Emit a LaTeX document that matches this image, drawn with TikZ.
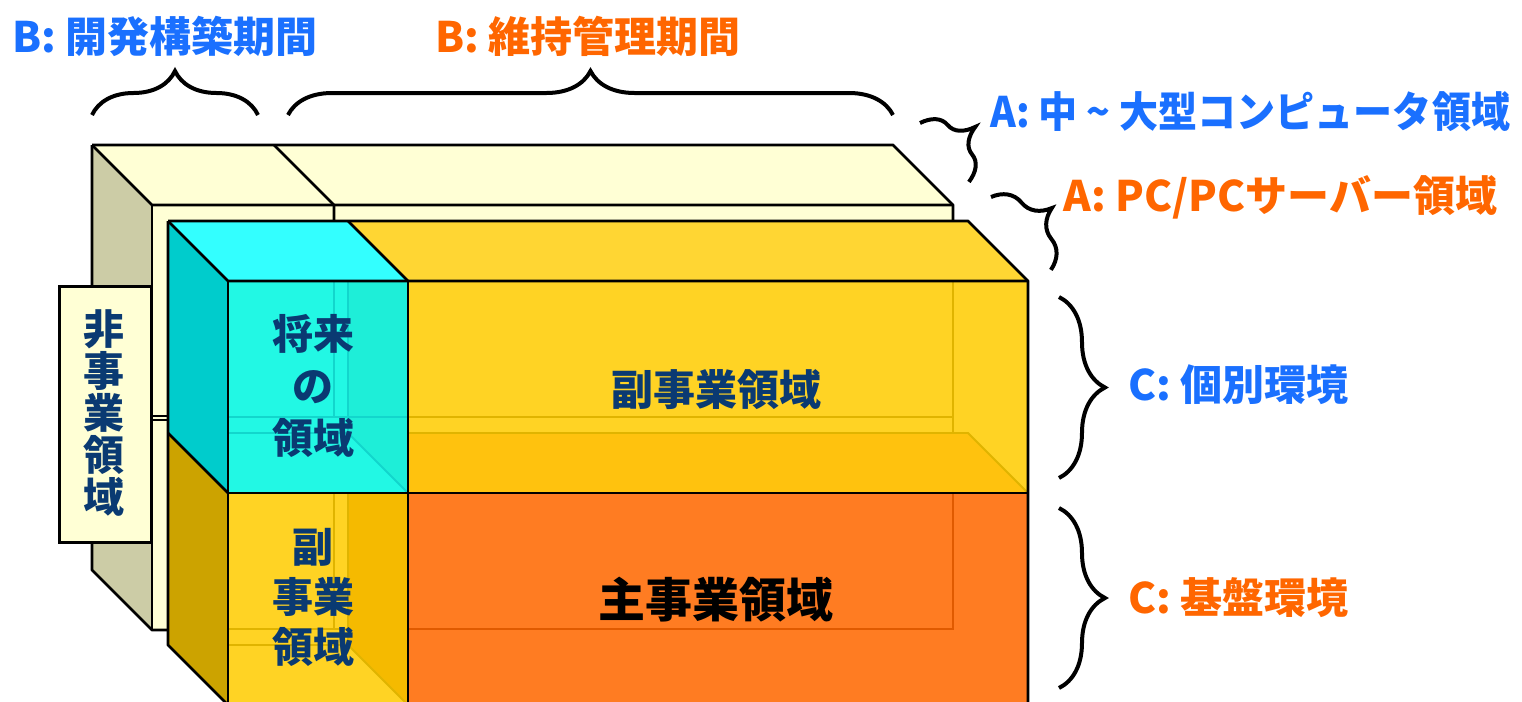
\documentclass[tikz,border=0pt]{standalone}
\usepackage{fontspec}
\setmainfont{Noto Sans CJK JP}
\usetikzlibrary{decorations.pathreplacing}
\definecolor{paleY}{HTML}{FFFFD5}
\definecolor{sideG}{HTML}{CCCCA6}
\definecolor{cyTop}{HTML}{33FFFF}
\definecolor{cySide}{HTML}{00CCCC}
\definecolor{cyFront}{HTML}{22F8E4}
\definecolor{cyInner}{HTML}{1EEED8}
\definecolor{cyLine}{HTML}{12D6CC}
\definecolor{yTop}{HTML}{FFD633}
\definecolor{yFront}{HTML}{FFD324}
\definecolor{yInner}{HTML}{FFC20E}
\definecolor{yInner2}{HTML}{F5BA00}
\definecolor{yLine}{HTML}{E0B400}
\definecolor{gSide}{HTML}{CCA300}
\definecolor{orFront}{HTML}{FF7C22}
\definecolor{orLine}{HTML}{E05A00}
\definecolor{lblBlue}{HTML}{1A70FF}
\definecolor{lblOrange}{HTML}{FF6600}
\definecolor{navy}{HTML}{0A3A72}
\begin{document}
\begin{tikzpicture}[x=0.5pt,y=-0.5pt,
  edge/.style={line width=1.4pt, line join=round},
  faint/.style={line width=0.9pt},
  brc/.style={line width=2pt, decorate, decoration={brace, amplitude=#1}},
  lbl/.style={font=\fontsize{21}{25}\selectfont\bfseries, inner sep=0pt, anchor=west},
  inner/.style={font=\fontsize{20.5}{26}\selectfont\bfseries, text=navy, inner sep=0pt, align=center}]
\useasboundingbox (0,0) rectangle (1522,702);
\begin{scope}
\clip (0,0) rectangle (1522,702);
% ---- back box ----
\fill[sideG] (92,145) -- (152,205) -- (152,630) -- (92,570) -- cycle;
\fill[paleY] (92,145) -- (893,145) -- (953,205) -- (152,205) -- cycle;
\fill[paleY] (152,205) rectangle (953,630);
\draw[edge] (92,145) -- (893,145) -- (953,205) -- (953,221);
\draw[edge] (92,145) -- (92,570) -- (152,630) -- (168,630);
\draw[edge] (92,145) -- (152,205) -- (953,205);
\draw[edge] (152,205) -- (152,630);
\draw[edge] (274,145) -- (334,205) -- (334,221);
\draw[faint] (152,416) -- (168,416);
\draw[faint] (152,420) -- (168,420);
% ---- small side box ----
\node[draw, line width=1.4pt, fill=paleY, minimum width=46pt, minimum height=128pt, inner sep=0pt, anchor=north west] (side) at (58,285) {};
\node[inner, font=\fontsize{20.5}{21}\selectfont\bfseries] (sidetxt) at (104,413) {非\\事\\業\\領\\域};
% ---- front block faces ----
% cyan box
\fill[cySide] (168,221) -- (228,281) -- (228,493) -- (168,433) -- cycle;
\fill[cyTop] (168,221) -- (348,221) -- (408,281) -- (228,281) -- cycle;
\fill[cyFront] (228,281) rectangle (408,493);
\fill[cyInner] (348,281) -- (408,281) -- (408,493) -- (348,433) -- cycle;
\draw[faint, cyLine] (334,281) -- (334,417) (348,281) -- (348,433) -- (408,493)
  (228,417) -- (408,417) (228,433) -- (348,433);
% upper yellow box
\fill[yTop] (348,221) -- (968,221) -- (1028,281) -- (408,281) -- cycle;
\fill[yFront] (408,281) rectangle (1028,493);
\fill[yInner] (408,433) -- (968,433) -- (1028,493) -- (408,493) -- cycle;
\draw[faint, yLine] (953,281) -- (953,433) (408,417) -- (953,417)
  (408,433) -- (968,433) -- (1028,493);
% lower yellow box
\fill[gSide] (168,433) -- (228,493) -- (228,705) -- (168,645) -- cycle;
\fill[yFront] (228,493) rectangle (408,705);
\fill[yInner2] (348,493) -- (408,493) -- (408,705) -- (348,645) -- cycle;
\draw[faint, yLine] (334,493) -- (334,629) (348,493) -- (348,645) -- (408,705)
  (228,629) -- (348,629) (228,645) -- (348,645);
% orange box
\fill[orFront] (408,493) rectangle (1028,705);
\draw[faint, orLine] (953,493) -- (953,629) -- (408,629);
% outlines
\draw[edge] (168,221) -- (968,221) -- (1028,281) -- (1028,705);
\draw[edge] (168,221) -- (228,281) -- (1028,281);
\draw[edge] (348,221) -- (408,281);
\draw[edge] (168,221) -- (168,645) -- (228,705);
\draw[edge] (168,433) -- (228,493);
\draw[edge] (228,281) -- (228,705);
\draw[edge] (408,281) -- (408,705);
\draw[edge] (228,493) -- (1028,493);
\end{scope}
% ---- inner texts ----
\node[inner, font=\fontsize{20.5}{26}\selectfont\bfseries] (future) at (313,386) {将来\\の\\領域};
\node[inner, font=\fontsize{21}{26}\selectfont\bfseries] (subA) at (716,390) {副事業領域};
\node[inner, font=\fontsize{20.5}{25}\selectfont\bfseries] (subB) at (313,597) {副\\事業\\領域};
\node[inner, text=black, font=\fontsize{23.5}{28}\selectfont\bfseries] (main) at (716,600) {主事業領域};
% ---- labels ----
\node[lbl, text=lblBlue] (b1) at (12,36) {B: 開発構築期間};
\node[lbl, text=lblOrange] (b2) at (435,36) {B: 維持管理期間};
\node[lbl, text=lblBlue] (a1) at (990,112) {\scalebox{0.93}[1]{A: 中 \textasciitilde{} 大型コンピュータ領域}};
\node[lbl, text=lblOrange] (a2) at (1063,197) {A: PC/PCサーバー領域};
\node[lbl, text=lblBlue] (c1) at (1128,385) {C: 個別環境};
\node[lbl, text=lblOrange] (c2) at (1128,598) {C: 基盤環境};
% ---- braces ----
\coordinate (bb1s) at (92,115);
\coordinate (bb1e) at (258,115);
\coordinate (bb2s) at (288,115);
\coordinate (bb2e) at (893,115);
\coordinate (ab1s) at (920,123);
\coordinate (ab1e) at (969,182);
\coordinate (ab2s) at (991,197);
\coordinate (ab2e) at (1051,270);
\coordinate (cb1s) at (1059,297);
\coordinate (cb1e) at (1059,478);
\coordinate (cb2s) at (1059,508);
\coordinate (cb2e) at (1059,688);
\draw[brc=22pt] (bb1s) -- (bb1e);
\draw[brc=22pt] (bb2s) -- (bb2e);
\draw[brc=20pt] (ab1s) -- (ab1e);
\draw[brc=20pt] (ab2s) -- (ab2e);
\draw[brc=23pt] (cb1s) -- (cb1e);
\draw[brc=23pt] (cb2s) -- (cb2e);
\end{tikzpicture}
\end{document}
